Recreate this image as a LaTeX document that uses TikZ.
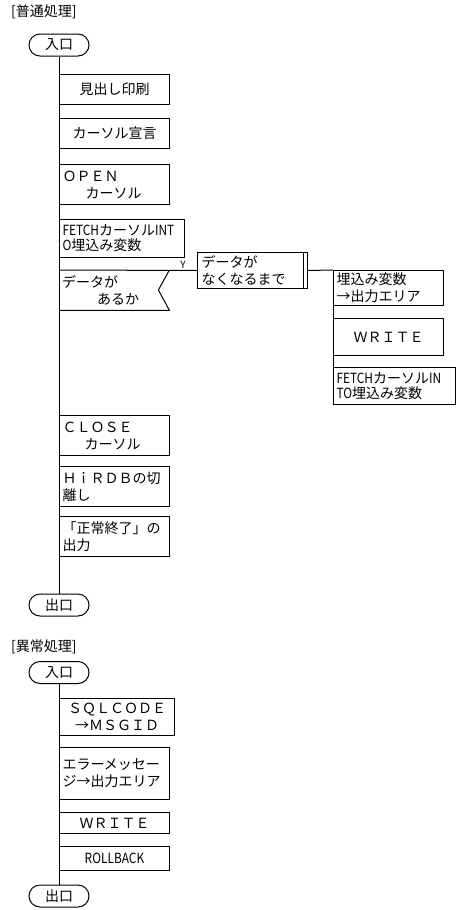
\documentclass[tikz,border=0pt]{standalone}
\usepackage{fontspec}
\usepackage{graphicx}
\newfontfamily\jp{Noto Sans CJK JP}
\newcommand{\hw}[1]{\scalebox{0.85}[1]{#1}}
\tikzset{
  bx/.style n args={3}{draw, line width=1pt, rectangle, anchor=north west,
    minimum width=#1, minimum height=#2, text width=#3,
    inner xsep=3pt, inner ysep=0pt, font=\jp\fontsize{14}{17}\selectfont},
  lbox/.style={align=left},
  cbox/.style={align=center},
  term/.style={draw, line width=1pt, rounded corners=11pt, minimum width=60pt,
    minimum height=22pt, inner sep=0pt, font=\jp\fontsize{14}{17}\selectfont},
  ttl/.style={anchor=west, inner sep=0pt, font=\jp\fontsize{14}{17}\selectfont},
  conn/.style={line width=1pt},
}
\begin{document}
\begin{tikzpicture}[x=1pt,y=-1pt]
\useasboundingbox (0,0) rectangle (457,910);
% ---- normal processing ----
\node[ttl] (t1) at (11,11.5) {[普通処理]};
\node[term] (in1) at (59,45) {入口};
\node[bx={110pt}{30pt}{104pt}, cbox] (b1) at (59,74) {見出し印刷};
\node[bx={110pt}{30pt}{104pt}, cbox] (b2) at (59,118) {カーソル宣言};
\node[bx={110pt}{40pt}{104pt}, lbox] (b3) at (59,164) {ＯＰＥＮ\\\hspace*{23pt}カーソル};
\node[bx={125pt}{38pt}{119pt}, lbox, font=\jp\fontsize{14}{15}\selectfont] (b4) at (59,219) {\hw{FETCH}カーソル\hw{INT}\\\hw{O}埋込み変数};
\node[anchor=north west, minimum width=110pt, minimum height=40pt, text width=104pt,
  inner xsep=3pt, inner ysep=0pt, align=left, font=\jp\fontsize{14}{17}\selectfont] (cond) at (59,270) {データが\\\hspace*{35pt}あるか};
\node[inner sep=0pt, anchor=south, font=\jp\fontsize{10}{10}\selectfont] (ylab) at (183,268.5) {Y};
\node[bx={110pt}{36pt}{104pt}, lbox, inner xsep=4pt, text width=102pt] (loop) at (197,252) {データが\\なくなるまで};
\node[bx={110pt}{35pt}{104pt}, lbox] (s1) at (333,270) {埋込み変数\\→出力エリア};
\node[bx={110pt}{37pt}{104pt}, cbox] (s2) at (333,318) {ＷＲＩＴＥ};
\node[bx={122pt}{37pt}{116pt}, lbox, font=\jp\fontsize{14}{15}\selectfont] (s3) at (333,367) {\hw{FETCH}カーソル\hw{IN}\\\hw{TO}埋込み変数};
\node[bx={110pt}{40pt}{104pt}, lbox] (b5) at (59,415) {ＣＬＯＳＥ\\\hspace*{22pt}カーソル};
\node[bx={110pt}{40pt}{104pt}, lbox] (b6) at (59,466) {ＨｉＲＤＢの切\\離し};
\node[bx={110pt}{40pt}{104pt}, lbox] (b7) at (59,516) {「正常終了」の\\出力};
\node[term] (out1) at (59,605) {出口};
% connectors
\draw[conn] (in1.south) -- (out1.north);
\draw[conn] (cond.north west) -- (loop.west);
\draw[conn] (cond.north east) -- ++(-11,20) -- (cond.south east) -- (cond.south west);
\draw[conn] ([xshift=-5pt]loop.north east) -- ([xshift=-5pt]loop.south east);
\draw[conn] (loop.east) -- (s1.north west);
\draw[conn] (s1.north west) -- (s3.north west);
% ---- error processing ----
\node[ttl] (t2) at (11,647) {[異常処理]};
\node[term] (in2) at (59,672.5) {入口};
\node[bx={115pt}{37pt}{109pt}, cbox] (c1) at (59,698) {ＳＱＬＣＯＤＥ\\→ＭＳＧＩＤ};
\node[bx={110pt}{52pt}{104pt}, lbox] (c2) at (59,747) {エラーメッセー\\ジ→出力エリア};
\node[bx={110pt}{21pt}{104pt}, cbox] (c3) at (59,812) {ＷＲＩＴＥ};
\node[bx={110pt}{24pt}{104pt}, cbox] (c4) at (59,846) {\hw{ROLLBACK}};
\node[term] (out2) at (59,896) {出口};
\draw[conn] (in2.south) -- (out2.north);
\end{tikzpicture}
\end{document}
